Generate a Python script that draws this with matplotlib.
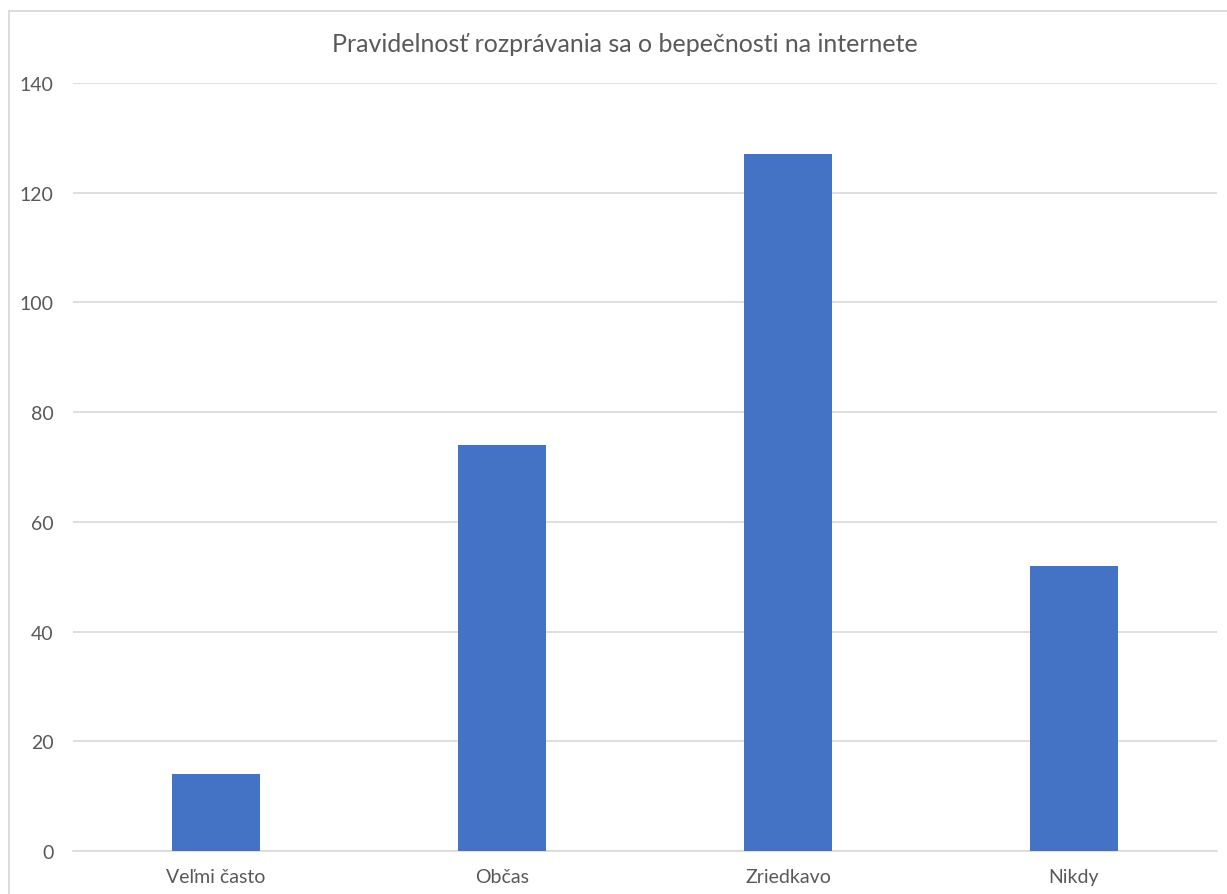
import matplotlib
matplotlib.use("Agg")
import matplotlib.pyplot as plt
from matplotlib.patches import Rectangle

kategorie = ["Veľmi často", "Občas", "Zriedkavo", "Nikdy"]
pocty = [14, 74, 127, 52]
y_ticks = [0, 20, 40, 60, 80, 100, 120, 140]
nadpis = "Pravidelnosť rozprávania sa o bepečnosti na internete"

plt.rcParams['font.family'] = ['Lato', 'DejaVu Sans']

W, H = 1227, 895
fig = plt.figure(figsize=(W / 100, H / 100), dpi=100)

# ramik okolo grafu (ako v exceli)
fig.patches.append(Rectangle((9 / W, -0.1), 1.2, 1 - 12 / H + 0.1,
                             transform=fig.transFigure, fill=False,
                             edgecolor="#d9d9d9", linewidth=1.3))

ax = fig.add_axes([73 / W, 1 - 852 / H, (1217 - 73) / W, (852 - 84) / H])
x = range(len(kategorie))
ax.bar(x, pocty, width=0.31, color="#4472C4", zorder=3)

ax.set_xlim(-0.5, len(kategorie) - 0.5)
ax.set_ylim(0, 140)
ax.set_yticks(y_ticks)
ax.set_xticks(list(x))
ax.set_xticklabels(kategorie)
ax.grid(axis="y", color="#d9d9d9", linewidth=1.2, zorder=0)
for s in ["top", "right", "left"]:
    ax.spines[s].set_visible(False)
ax.spines["bottom"].set_color("#d9d9d9")
ax.spines["bottom"].set_linewidth(1.2)
ax.tick_params(axis="both", length=0, colors="#595959", labelsize=14)
ax.tick_params(axis="y", pad=14)
ax.tick_params(axis="x", pad=12)

fig.text(625 / W, 1 - 44 / H, nadpis, ha="center", va="center",
         fontsize=18, color="#595959")

fig.savefig("out.png", dpi=100)
